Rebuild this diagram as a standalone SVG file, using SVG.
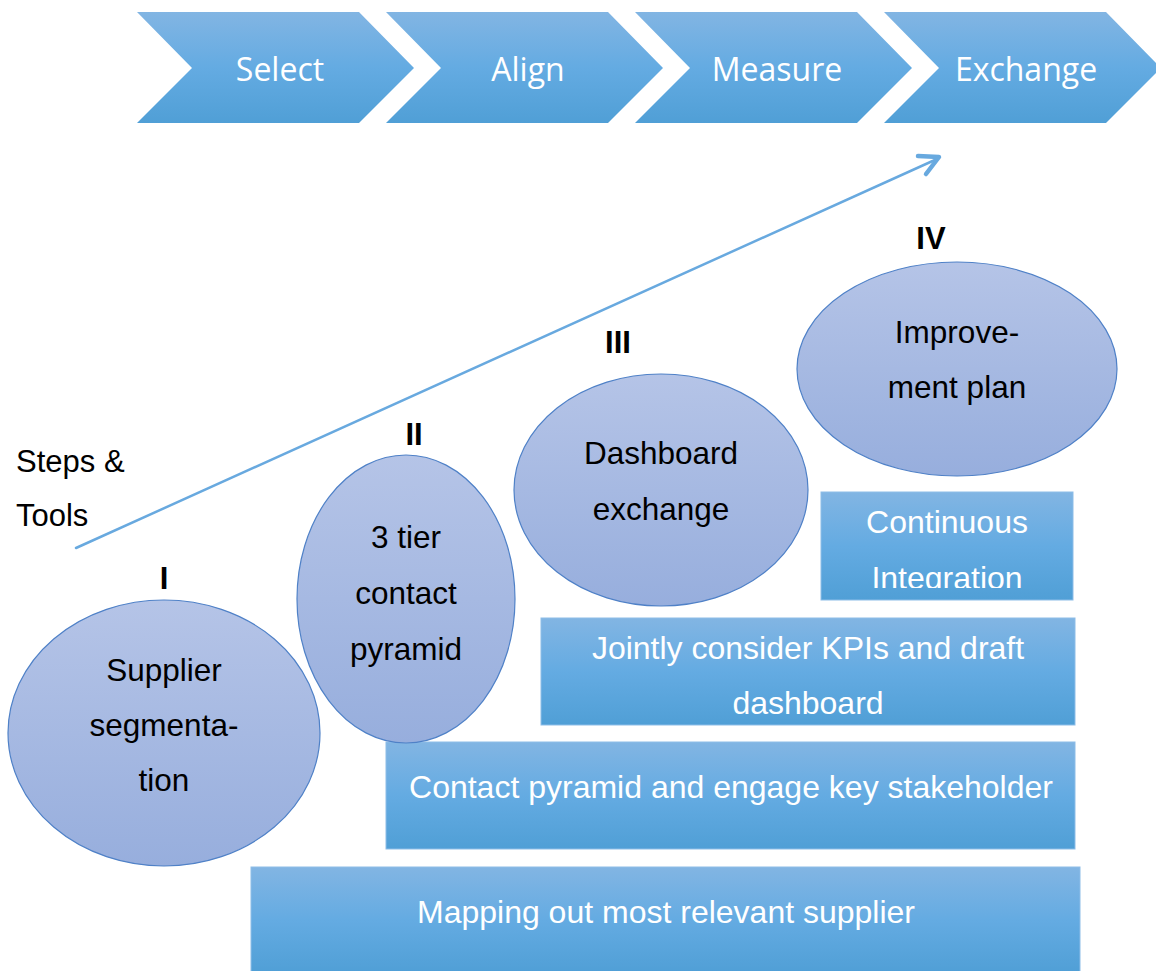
<svg xmlns="http://www.w3.org/2000/svg" width="1156" height="971" viewBox="0 0 1156 971">
<defs>
<linearGradient id="gBlue" x1="0" y1="0" x2="0" y2="1">
<stop offset="0" stop-color="#82b5e3"/>
<stop offset="0.5" stop-color="#64abe2"/>
<stop offset="1" stop-color="#509fd6"/>
</linearGradient>
<linearGradient id="gEll" x1="0" y1="0" x2="0" y2="1">
<stop offset="0" stop-color="#b5c4e7"/>
<stop offset="1" stop-color="#97aedd"/>
</linearGradient>
<clipPath id="ciClip"><rect x="821" y="492" width="252" height="96"/></clipPath>
</defs>
<style>
.chev{fill:url(#gBlue);}
.ctext{font-family:"Open Sans","Noto Sans",sans-serif;font-size:32px;fill:#ffffff;text-anchor:middle;}
.ell{fill:url(#gEll);stroke:#4f81c7;stroke-width:1.2;}
.etext{font-family:"Liberation Sans",Arial,sans-serif;font-size:31.5px;fill:#000000;text-anchor:middle;}
.num{font-family:"Liberation Sans",Arial,sans-serif;font-size:31px;font-weight:bold;fill:#000000;text-anchor:middle;}
.box{fill:url(#gBlue);stroke:#8dbde8;stroke-width:1;}
.btext{font-family:"Liberation Sans",Arial,sans-serif;font-size:32px;fill:#ffffff;text-anchor:middle;}
.ltext{font-family:"Liberation Sans",Arial,sans-serif;font-size:31px;fill:#000000;}
.conn{fill:none;stroke:#68a9df;stroke-width:2.5;stroke-linecap:round;stroke-linejoin:round;}
.head{fill:none;stroke:#68a9df;stroke-width:4.5;stroke-linecap:round;stroke-linejoin:round;}
</style>
<rect width="1156" height="971" fill="#ffffff"/>

<g id="chevron-select">
<polygon class="chev" points="137,12 359,12 414,68 359,123 137,123 192,68"/>
<text class="ctext" x="280" y="81">Select</text>
</g>
<g id="chevron-align">
<polygon class="chev" points="386,12 608,12 663,68 608,123 386,123 441,68"/>
<text class="ctext" x="528" y="81">Align</text>
</g>
<g id="chevron-measure">
<polygon class="chev" points="635,12 857,12 912,68 857,123 635,123 690,68"/>
<text class="ctext" x="777" y="81">Measure</text>
</g>
<g id="chevron-exchange">
<polygon class="chev" points="884,12 1106,12 1161,68 1106,123 884,123 939,68"/>
<text class="ctext" x="1026" y="81">Exchange</text>
</g>

<g id="connectors">
<line class="conn" x1="76" y1="548" x2="937" y2="159"/>
<polyline class="head" points="918,156 939,157 926,174"/>
</g>

<g id="label-steps">
<text class="ltext" x="16" y="472">Steps &amp;</text>
<text class="ltext" x="16" y="526">Tools</text>
</g>

<g id="box-mapping">
<rect class="box" x="251" y="867" width="829" height="106"/>
<text class="btext" x="666" y="923">Mapping out most relevant supplier</text>
</g>
<g id="box-contact">
<rect class="box" x="386" y="742" width="689" height="107"/>
<text class="btext" x="731" y="798">Contact pyramid and engage key stakeholder</text>
</g>
<g id="box-jointly">
<rect class="box" x="541" y="618" width="534" height="107"/>
<text class="btext" x="808" y="659">Jointly consider KPIs and draft</text>
<text class="btext" x="808" y="714">dashboard</text>
</g>
<g id="box-continuous">
<rect class="box" x="821" y="492" width="252" height="108"/>
<text class="btext" x="947" y="533">Continuous</text>
<text class="btext" x="947" y="589" clip-path="url(#ciClip)">Integration</text>
</g>

<g id="node-I">
<text class="num" x="164" y="589">I</text>
<ellipse class="ell" cx="164" cy="733" rx="156" ry="133"/>
<text class="etext" x="164" y="681">Supplier</text>
<text class="etext" x="164" y="736">segmenta-</text>
<text class="etext" x="164" y="791">tion</text>
</g>
<g id="node-II">
<text class="num" x="414" y="445">II</text>
<ellipse class="ell" cx="406" cy="599" rx="109" ry="144"/>
<text class="etext" x="406" y="548">3 tier</text>
<text class="etext" x="406" y="604">contact</text>
<text class="etext" x="406" y="660">pyramid</text>
</g>
<g id="node-III">
<text class="num" x="618" y="353">III</text>
<ellipse class="ell" cx="661" cy="490" rx="147" ry="116"/>
<text class="etext" x="661" y="464">Dashboard</text>
<text class="etext" x="661" y="520">exchange</text>
</g>
<g id="node-IV">
<text class="num" x="931" y="249">IV</text>
<ellipse class="ell" cx="957" cy="369" rx="160" ry="107"/>
<text class="etext" x="957" y="343">Improve-</text>
<text class="etext" x="957" y="398">ment plan</text>
</g>
</svg>
